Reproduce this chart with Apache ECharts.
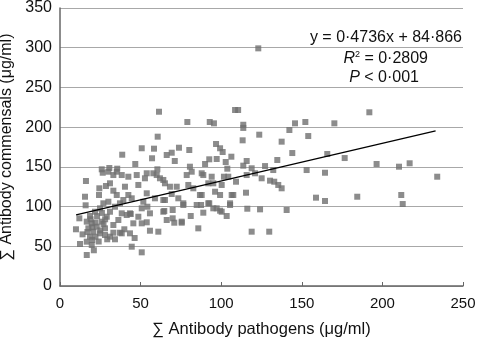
<!DOCTYPE html>
<html><head><meta charset="utf-8">
<script src="https://cdn.jsdelivr.net/npm/echarts@6/dist/echarts.min.js"></script>
<style>html,body{margin:0;padding:0;background:#fff}#c{width:477px;height:339px}</style>
</head><body><div id="c"></div>
<script>
const xTicks = [0, 50, 100, 150, 200, 250];
const yTicks = [0, 50, 100, 150, 200, 250, 300, 350];
const pathogens = [
61.4,38.6,60.6,50.7,58.3,57.1,66.2,69.3,71.2,73.8,79,80.2,92.9,95.5,108.6,110.5,96.8,99.3,100.9,92.6,97.2,106.3,102.8,46.7,
30.6,35.5,25.9,90,80.6,60.4,103.8,
123,191.9,170.2,152.2,145.8,142.3,154,123.6,137.5,113.7,113.7,113.3,144.1,165.8,176.6,134.8,115.8,113.7,127.2,196.4,210.3,216.9,118.9,153,
234,164.4,115.8,121,125.1,130.3,132.9,135.4,137.5,132.3,115.4,158.8,164.4,184.4,211.7,212.6,116.2,124.1,140.6,118.9,129.8,
9.9,12.4,16.1,16.6,15.5,15.9,12,24.2,42.4,44.5,50.7,46.3,34.1,29.3,39.9,37.2,43.9,50.7,53.8,55.8,61,51.7,48.6,55.8,64.7,66.2,69.9,70.9,75.5,81.1,85.8,87.5,92,95.1,99.3,103.4,105.5,107.5,99.3,87.9,76.5,69.3,64.1,88.9,95.1,101.7,
24.4,28.5,31,26.5,30,33.1,33.1,35.2,30,26.9,24.8,21.7,18.6,16.6,19.7,17.6,20.7,22.8,25.9,29,31,34.1,37.2,39.3,41.4,38.3,36.2,33.1,27.9,24.8,27.9,18.6,16.6,19.7,31,33.1,38.3,43.4,45.5,43.4,48.6,50.7,44.5,42.4,53.8,54.2,40.3,47.6,52.7,
35.2,38.3,53.8,64.1,
57.9,60,62,65.1,68.2,72.4,78.6,81.7,87.9,94.1,104.4,79.6,82.7,92,100.3,109.2,96.2,86.8,58.9,65.1,73.4,76.5,84.8,92.6,97.2,106.5,105.5,64.1,88.9,100.3,75.5,69.9,
14,17,20,22,19,23,26,20,22,25,27,28,24,21
];
const commensals = [
219.4,165.3,188,173.4,172.9,160.8,164.9,167.8,157.4,174.1,206.5,171.2,206.5,204.8,221.6,221.6,178.8,173.4,168.7,159.5,159.9,162.8,156.1,153.6,
148.6,147.7,146.9,153.6,150.2,146.9,147.7,
299.2,218.7,204.8,206.5,204.8,196.4,188.8,190.5,181.7,203,199,183.4,167.4,166.2,161.1,158.6,157.4,151.5,151,153.6,150.2,154.5,148.2,146,
137.6,142.6,139.7,141.9,135.6,132.6,131.3,127.2,123,146,117.5,111.2,107,112.4,114.6,103.2,97.3,96.5,95.7,68.4,68.4,
71.4,52.9,132.2,39,112.4,101.6,85.2,114.6,137.6,49.5,42.4,60.4,58.8,58.8,71.4,67.1,90.6,78.9,80.2,69.6,68.4,106.1,127.2,91.5,94.4,83.1,95.7,79.7,81,88.1,72.6,102,104.1,97.8,94.8,88.1,102,114.6,114.6,114.6,102,115.8,108.3,139.7,129.3,137.6,
123,125.9,129.3,142.6,143.9,139.7,120,114.6,106.1,104.1,97.8,93.5,88.1,81,78.9,72.6,68.4,74.7,81,87.2,93.5,99.8,104.1,108.3,89.4,91.5,83.1,76.8,72.6,66.3,64.2,62.1,55.8,51.6,62.1,67.1,66.3,66.3,78.9,91.5,87.2,97.8,110.4,114.6,116.7,99.8,125,139.7,135.6,
143.9,139.7,141.9,133.5,
141.9,139.7,135.6,129.3,125,125,139.7,143.9,141.9,137.6,137.6,127.2,123,129.3,127.2,131.3,118.7,114.6,110.4,108.3,110.4,104.1,102,104.1,97.8,114.6,104.1,93.5,92.3,93.5,79.7,85.2,
65,68,74,80,84,88,92,58,62,70,78,84,56,45
];
const slope = 0.4736, intercept = 84.866;
const fitRange = [10, 233];

const pts = pathogens.map((x, i) => [x, commensals[i]]);
const fit = fitRange.map(x => [x, slope * x + intercept]);
const font = 'Liberation Sans, Arial, sans-serif';

const chart = echarts.init(document.getElementById('c'));
chart.setOption({
  animation: false,
  backgroundColor: '#fff',
  grid: {left: 60, right: 14, top: 8, bottom: 53, outerBoundsMode: 'none', containLabel: false},
  xAxis: {
    type: 'value', min: xTicks[0], max: xTicks[xTicks.length-1], interval: 50,
    name: '\u2211 Antibody pathogens (\u03bcg/ml)', nameLocation: 'middle', nameGap: 35,
    nameTextStyle: {fontFamily: font, fontSize: 16.5, color: '#111'},
    axisLine: {lineStyle: {color: '#666', width: 1.5}},
    axisTick: {inside: true, length: 4, lineStyle: {color: '#666'}},
    axisLabel: {fontFamily: font, fontSize: 15, color: '#111', margin: 10},
    splitLine: {show: false}
  },
  yAxis: {
    type: 'value', min: yTicks[0], max: yTicks[yTicks.length-1], interval: 50,
    name: '\u2211 Antibody commensals (\u03bcg/ml)', nameLocation: 'middle', nameGap: 31,
    nameTextStyle: {fontFamily: font, fontSize: 16, color: '#111'},
    axisLine: {show: true, lineStyle: {color: '#666', width: 1.5}},
    axisTick: {show: false},
    axisLabel: {fontFamily: font, fontSize: 16, color: '#111', margin: 8},
    splitLine: {lineStyle: {color: '#a8a8a8', width: 1}}
  },
  series: [
    {type: 'scatter', data: pts, symbol: 'rect', symbolSize: 6,
     itemStyle: {color: '#6f6f6f'}, z: 2},
    {type: 'line', data: fit, showSymbol: false, symbol: 'none',
     lineStyle: {color: '#000', width: 1.3}, z: 3}
  ],
  graphic: [
    {type: 'text', right: 15, top: 30, style: {text: 'y = 0\u00b74736x + 84\u00b7866', font: '16px ' + font, fill: '#111'}},
    {type: 'text', right: 49, top: 50, style: {
      text: '{i|R}{s|2} = 0\u00b72809',
      font: '16px ' + font, fill: '#111',
      rich: {i: {fontStyle: 'italic', fontSize: 16, fontFamily: font, fill: '#111'},
             s: {fontSize: 9, fontFamily: font, verticalAlign: 'top', lineHeight: 18}}
    }},
    {type: 'text', right: 58, top: 70, style: {
      text: '{i|P} < 0\u00b7001', font: '16px ' + font, fill: '#111',
      rich: {i: {fontStyle: 'italic', fontSize: 16, fontFamily: font}}
    }}
  ]
});
</script></body></html>
